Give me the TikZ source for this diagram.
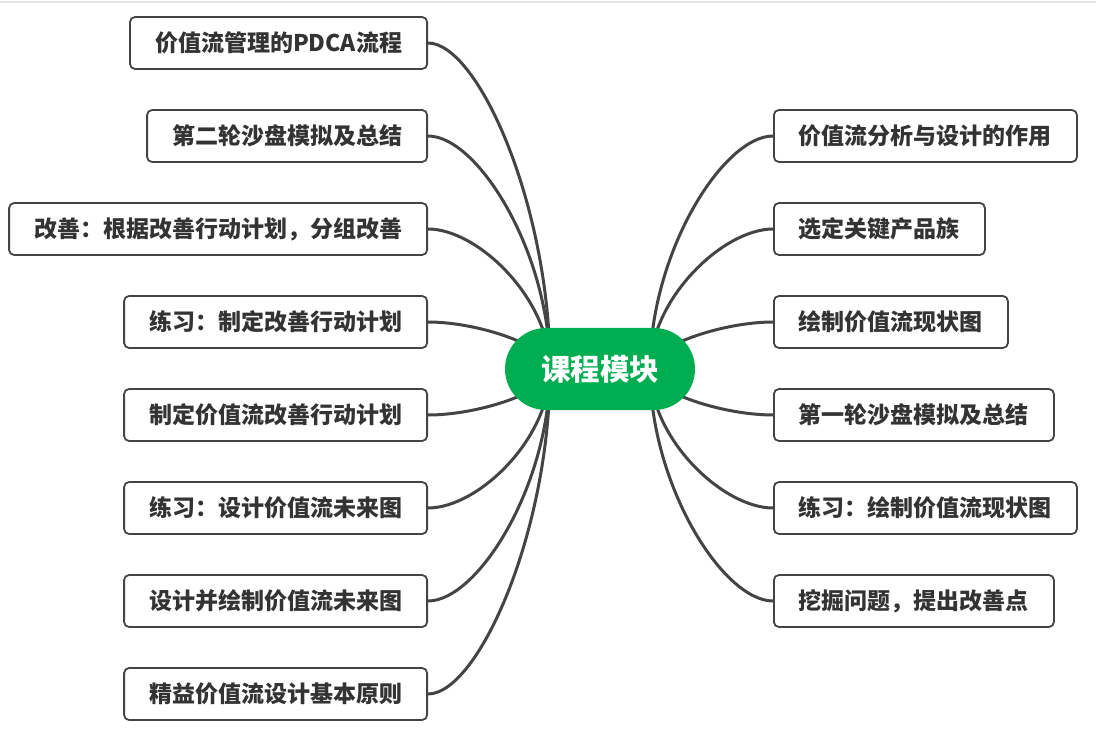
\documentclass[tikz,border=0pt]{standalone}
\usepackage{fontspec}
\setmainfont{Noto Sans CJK SC}
\usepackage{xcolor}
\usepackage{tikz}
\usetikzlibrary{backgrounds}
\definecolor{topicgreen}{RGB}{0,173,80}
\definecolor{linegray}{RGB}{68,68,68}
\definecolor{textgray}{RGB}{51,51,51}

\begin{document}
\begin{tikzpicture}[x=0.5pt, y=-0.5pt, font=\bfseries\fontsize{11.5pt}{13pt}\selectfont,
    root/.style={fill=topicgreen, text=white, rounded corners=20.5pt, minimum width=95pt, minimum height=41pt, font=\bfseries\fontsize{14.75pt}{17pt}\selectfont},
    sub/.style={draw=linegray, line width=0.9pt, rounded corners=2.5pt, fill=white, text=textgray, minimum height=26pt, inner xsep=12.5pt},
    lnk/.style={linegray, line width=1.5pt}]
    \useasboundingbox (0,0) rectangle (1096,737);
    \draw[gray!20, line width=0.8pt] (0,2) -- (1096,2);
    \node[root] (c) at (600,369) {课程模块};
    % left branch
    \node[sub, anchor=east] (l1) at (428,43) {价值流管理的PDCA流程};
    \node[sub, anchor=east] (l2) at (428,136) {第二轮沙盘模拟及总结};
    \node[sub, anchor=east] (l3) at (428,229) {改善：根据改善行动计划，分组改善};
    \node[sub, anchor=east] (l4) at (428,322) {练习：制定改善行动计划};
    \node[sub, anchor=east] (l5) at (428,415) {制定价值流改善行动计划};
    \node[sub, anchor=east] (l6) at (428,508) {练习：设计价值流未来图};
    \node[sub, anchor=east] (l7) at (428,601) {设计并绘制价值流未来图};
    \node[sub, anchor=east] (l8) at (428,694) {精益价值流设计基本原则};
    % right branch
    \node[sub, anchor=west] (r1) at (773,136) {价值流分析与设计的作用};
    \node[sub, anchor=west] (r2) at (773,229) {选定关键产品族};
    \node[sub, anchor=west] (r3) at (773,322) {绘制价值流现状图};
    \node[sub, anchor=west] (r4) at (773,415) {第一轮沙盘模拟及总结};
    \node[sub, anchor=west] (r5) at (773,508) {练习：绘制价值流现状图};
    \node[sub, anchor=west] (r6) at (773,601) {挖掘问题，提出改善点};
    \begin{scope}[on background layer]
      \foreach \n/\dy in {l1/-163, l2/-116, l3/-70, l4/-23, l5/23, l6/70, l7/116, l8/163}
        \draw[lnk] ([xshift=-25pt]c.center) .. controls +(0,\dy) and +(50,0) .. (\n.east);
      \foreach \n/\dy in {r1/-116, r2/-70, r3/-23, r4/23, r5/70, r6/116}
        \draw[lnk] ([xshift=25pt]c.center) .. controls +(0,\dy) and +(-50,0) .. (\n.west);
    \end{scope}
\end{tikzpicture}
\end{document}
